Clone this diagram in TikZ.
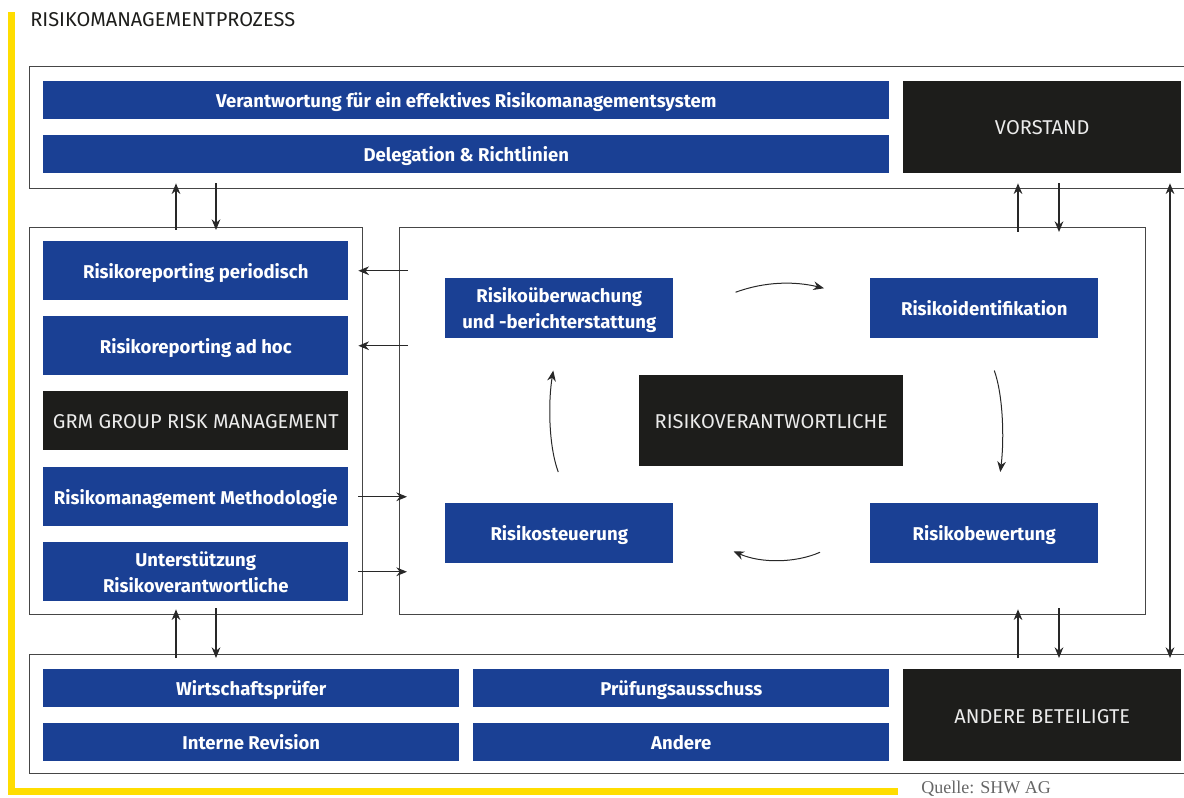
\documentclass[tikz,border=0pt]{standalone}
\usepackage{fontspec}
\setmainfont{Fira Sans}
\newfontfamily\srcfont{Liberation Serif}
\usetikzlibrary{arrows.meta,calc}
\definecolor{sblue}{RGB}{26,64,148}
\definecolor{sblack}{RGB}{29,29,27}
\definecolor{syellow}{RGB}{255,221,0}
\definecolor{sline}{RGB}{70,70,70}
\definecolor{sarrow}{RGB}{40,40,40}
\begin{document}
\begin{tikzpicture}[x=0.75pt,y=-0.75pt,
  bx/.style 2 args={minimum width=#1*0.75pt,minimum height=#2*0.75pt,inner sep=0pt,anchor=north west,align=center},
  bluebox/.style={fill=sblue,text=white,font=\fontsize{13.9}{19.5}\selectfont\bfseries,text height=11.4pt,text depth=0pt},
  twoline/.style={text height=30.9pt},
  blackbox/.style={fill=sblack,text=white!92!black,font=\fontsize{15}{18}\selectfont,text height=11.6pt,text depth=0pt},
  frame/.style={draw=sline,line width=1pt},
  arr/.style={draw=sarrow,line width=0.9pt,-{Stealth[length=8pt,width=6.5pt]}},
  darr/.style={draw=sarrow,line width=0.9pt,{Stealth[length=8pt,width=6.5pt]}-{Stealth[length=8pt,width=6.5pt]}},
  cyc/.style={draw=sarrow,line width=0.75pt,-{Stealth[length=8pt,width=6.5pt]}}]
\useasboundingbox (0,0) rectangle (1184,798);
\clip (0,0) rectangle (1184,798);
% yellow frame line
\fill[syellow] (8,12) rectangle (15,795);
\fill[syellow] (8,788) rectangle (898,795);
% title
\node[anchor=west,text=sblack,font=\fontsize{15}{18}\selectfont,inner sep=0pt] (title) at (30,20) {RISIKOMANAGEMENTPROZESS};
% top group
\node[frame,bx={1170}{122}] (topbox) at (29,66) {};
\node[bluebox,bx={846}{38}] (vbar) at (43,81) {Verantwortung für ein effektives Risikomanagementsystem};
\node[bluebox,bx={846}{38}] (dbar) at (43,135) {Delegation \& Richtlinien};
\node[blackbox,bx={278}{92}] (vorstand) at (903,81) {VORSTAND};
% left group
\node[frame,bx={333}{387}] (lbox) at (29,227) {};
\node[bluebox,bx={305}{59}] (rp) at (43,241) {Risikoreporting periodisch};
\node[bluebox,bx={305}{59}] (ra) at (43,316) {Risikoreporting ad hoc};
\node[blackbox,bx={305}{59}] (grm) at (43,391) {GRM GROUP RISK MANAGEMENT};
\node[bluebox,bx={305}{59}] (rm) at (43,467) {Risikomanagement Methodologie};
\node[bluebox,twoline,bx={305}{59}] (us) at (43,542) {Unterstützung\\Risikoverantwortliche};
% inner cycle group
\node[frame,bx={746}{387}] (ibox) at (399,227) {};
\node[bluebox,twoline,bx={228}{60}] (mon) at (445,278) {Risikoüberwachung\\und -berichterstattung};
\node[bluebox,bx={228}{60}] (ident) at (870,278) {Risikoidentifikation};
\node[bluebox,bx={228}{60}] (steu) at (445,503) {Risikosteuerung};
\node[bluebox,bx={228}{60}] (bew) at (870,503) {Risikobewertung};
\node[blackbox,bx={264}{91}] (rv) at (639,375) {RISIKOVERANTWORTLICHE};
% bottom group
\node[frame,bx={1170}{119}] (botbox) at (29,654) {};
\node[bluebox,bx={416}{38}] (wp) at (43,669) {Wirtschaftsprüfer};
\node[bluebox,bx={416}{38}] (ir) at (43,723) {Interne Revision};
\node[bluebox,bx={416}{38}] (pa) at (473,669) {Prüfungsausschuss};
\node[bluebox,bx={416}{38}] (an) at (473,723) {Andere};
\node[blackbox,bx={278}{92}] (ab) at (903,669) {ANDERE BETEILIGTE};
% source
\node[anchor=west,inner sep=0pt,text=black!60,font=\srcfont\fontsize{13.5}{16}\selectfont] (src) at (921,789) {Quelle: SHW AG};
% vertical connectors top
\draw[arr] ($(lbox.north -| 176,0)+(0,3)$) -- ($(topbox.south -| 176,0)+(0,-6)$);
\draw[arr] ($(topbox.south -| 216,0)+(0,-6)$) -- ($(lbox.north -| 216,0)+(0,3)$);
\draw[arr] ($(ibox.north -| 1018,0)+(0,5)$) -- ($(topbox.south -| 1018,0)+(0,-6)$);
\draw[arr] ($(topbox.south -| 1059,0)+(0,-6)$) -- ($(ibox.north -| 1059,0)+(0,5)$);
\draw[darr] ($(topbox.south -| 1170,0)+(0,-6)$) -- ($(botbox.north -| 1170,0)+(0,4)$);
% vertical connectors bottom
\draw[arr] ($(botbox.north -| 176,0)+(0,4)$) -- ($(lbox.south -| 176,0)+(0,-6)$);
\draw[arr] ($(lbox.south -| 216,0)+(0,-7)$) -- ($(botbox.north -| 216,0)+(0,4)$);
\draw[arr] ($(botbox.north -| 1018,0)+(0,4)$) -- ($(ibox.south -| 1018,0)+(0,-6)$);
\draw[arr] ($(ibox.south -| 1059,0)+(0,-7)$) -- ($(botbox.north -| 1059,0)+(0,4)$);
% horizontal connectors
\draw[arr] ($(ibox.west |- rp)+(9,0)$) -- ($(lbox.east |- rp)+(-5,0)$);
\draw[arr] ($(ibox.west |- ra)+(9,0)$) -- ($(lbox.east |- ra)+(-5,0)$);
\draw[arr] ($(lbox.east |- rm)+(-5,0)$) -- ($(ibox.west |- rm)+(8,0)$);
\draw[arr] ($(lbox.east |- us)+(-5,0)$) -- ($(ibox.west |- us)+(8,0)$);
% cycle arrows
\coordinate (c1a) at ($(mon.east)+(62,-16)$);
\coordinate (c1b) at ($(ident.west)+(-46,-20)$);
\draw[cyc] (c1a) .. controls ($(c1a)+(30,-11)$) and ($(c1b)+(-29,-7)$) .. (c1b);
\coordinate (c2a) at ($(ident.south)+(10,32)$);
\coordinate (c2b) at ($(bew.north)+(16,-31)$);
\draw[cyc] (c2a) .. controls ($(c2a)+(9,25)$) and ($(c2b)+(4,-32)$) .. (c2b);
\coordinate (c3a) at ($(bew.west)+(-50,19)$);
\coordinate (c3b) at ($(steu.east)+(60,18)$);
\draw[cyc] (c3a) .. controls ($(c3a)+(-25,11)$) and ($(c3b)+(27,12)$) .. (c3b);
\coordinate (c4a) at ($(steu.north)+(-1,-31)$);
\coordinate (c4b) at ($(mon.south)+(-6,32)$);
\draw[cyc] (c4a) .. controls ($(c4a)+(-10,-27)$) and ($(c4b)+(-5,30)$) .. (c4b);
\end{tikzpicture}
\end{document}
